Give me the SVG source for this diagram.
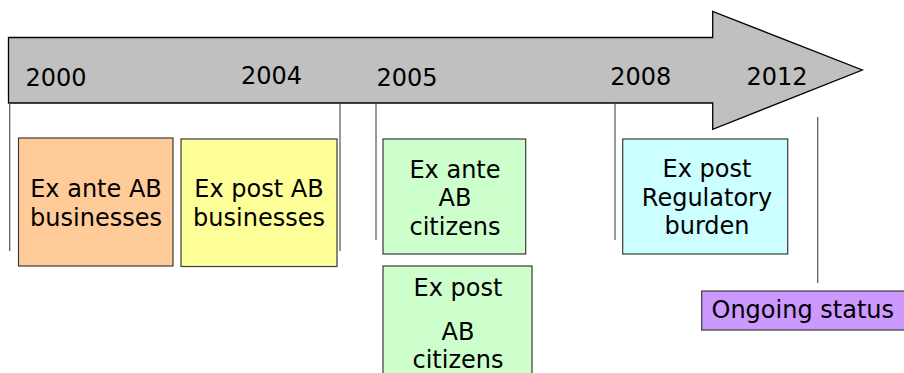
<svg xmlns="http://www.w3.org/2000/svg" width="904" height="373" viewBox="0 0 904 373">
<style>
text{font-family:"DejaVu Sans","Liberation Sans",sans-serif;font-size:24px;fill:#000}
.c{text-anchor:middle}
.box{stroke:#3a3a3a;stroke-width:1.2}
.tick{stroke:#555;stroke-width:1.2;fill:none}
</style>
<rect width="904" height="373" fill="#fff"/>
<g id="timeline">
<path d="M8.5,37.5 H712.7 V11.5 L862.3,70 L712.7,129.3 V103 H8.5 Z" fill="#c0c0c0" stroke="#000" stroke-width="1.3"/>
<text x="25.5" y="86">2000</text>
<text x="241" y="83.5">2004</text>
<text x="376.5" y="86">2005</text>
<text x="610.3" y="85">2008</text>
<text x="746.5" y="85">2012</text>
</g>
<g id="connectors">
<line class="tick" x1="9.7" y1="103" x2="9.7" y2="251"/>
<line class="tick" x1="340" y1="104" x2="340" y2="251"/>
<line class="tick" x1="376" y1="103" x2="376" y2="240"/>
<line class="tick" x1="615" y1="103" x2="615" y2="240"/>
<line class="tick" x1="817.7" y1="117" x2="817.7" y2="283" stroke="#111"/>
</g>
<g id="ex-ante-ab-businesses">
<rect class="box" x="18.5" y="138" width="154.5" height="128" fill="#ffcc99"/>
<text class="c" x="96" y="197">Ex ante AB</text>
<text class="c" x="96" y="226">businesses</text>
</g>
<g id="ex-post-ab-businesses">
<rect class="box" x="181" y="139" width="156" height="127.5" fill="#ffff99"/>
<text class="c" x="259" y="197">Ex post AB</text>
<text class="c" x="259" y="226">businesses</text>
</g>
<g id="ex-ante-ab-citizens">
<rect class="box" x="383" y="139" width="142.7" height="115" fill="#ccffcc"/>
<text class="c" x="455" y="177.5">Ex ante</text>
<text class="c" x="455" y="206">AB</text>
<text class="c" x="455" y="234.5">citizens</text>
</g>
<g id="ex-post-ab-citizens">
<rect class="box" x="383" y="266" width="149" height="120" fill="#ccffcc"/>
<text class="c" x="458" y="296">Ex post</text>
<text class="c" x="458" y="339.5">AB</text>
<text class="c" x="458" y="368">citizens</text>
</g>
<g id="ex-post-regulatory-burden">
<rect class="box" x="622.7" y="139" width="165" height="115" fill="#ccffff"/>
<text class="c" x="707" y="177">Ex post</text>
<text class="c" x="707" y="205.5">Regulatory</text>
<text class="c" x="707" y="234">burden</text>
</g>
<g id="ongoing-status">
<rect class="box" x="701.7" y="291" width="210" height="39" fill="#cc99ff"/>
<text x="711.5" y="318">Ongoing status</text>
</g>
</svg>
